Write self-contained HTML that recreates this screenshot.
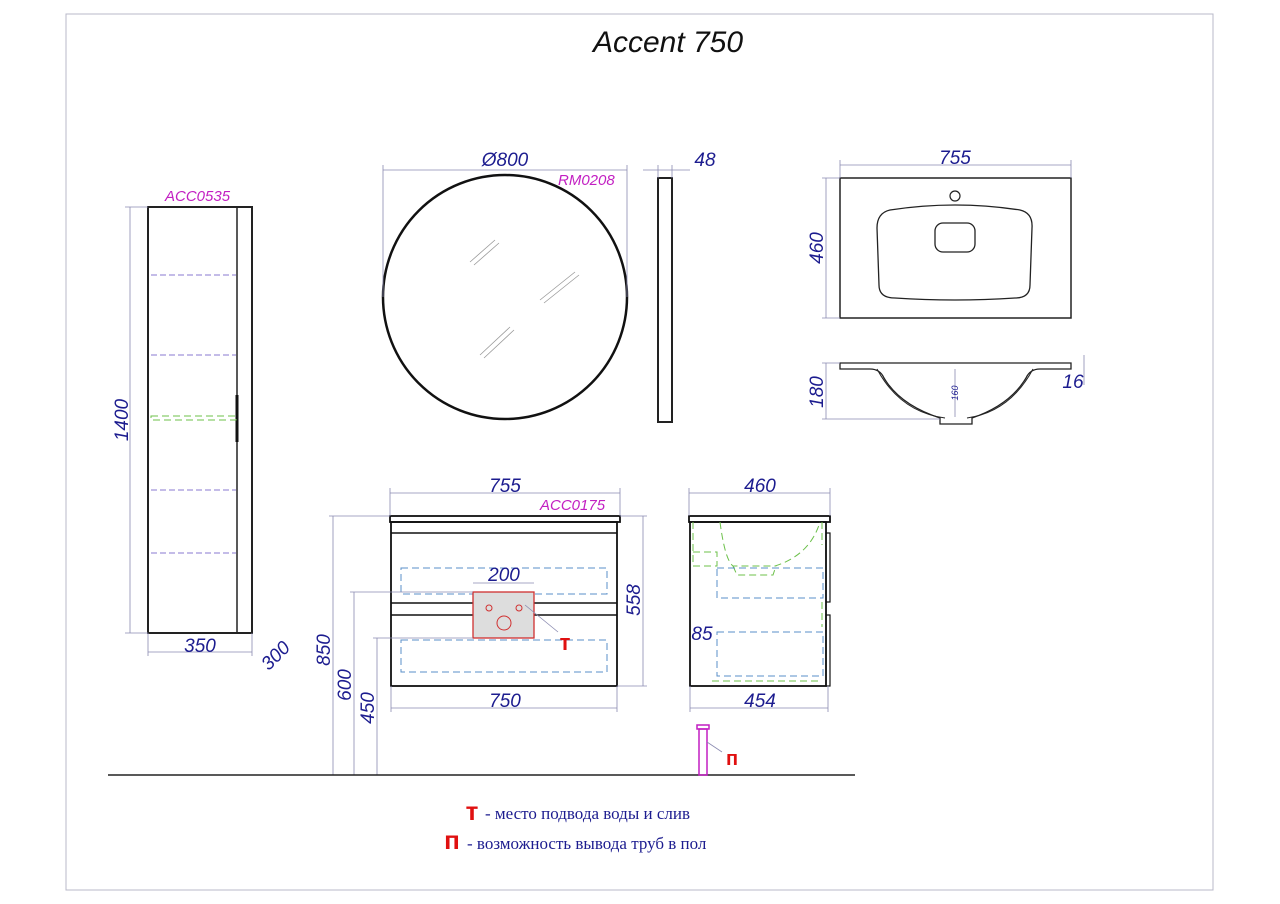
<!DOCTYPE html>
<html><head><meta charset="utf-8"><style>
html,body{margin:0;padding:0;background:#fff;}
svg{display:block;}
.d{font-family:"Liberation Sans",sans-serif;font-style:italic;fill:#1c1c8f;font-size:19px;}
.m{font-family:"Liberation Sans",sans-serif;font-style:italic;fill:#c21fc2;font-size:15px;}
.dl{stroke:#8a8ab0;stroke-width:0.8;fill:none;}
.k{stroke:#222;stroke-width:2;fill:none;}
.bd{stroke:#5a8fc8;stroke-width:1;stroke-dasharray:7 4;fill:none;}
.gd{stroke:#6cc04a;stroke-width:1;stroke-dasharray:7 4;fill:none;}
</style></head><body>
<svg width="1280" height="904" viewBox="0 0 1280 904">
<rect x="66" y="14" width="1147" height="876" fill="none" stroke="#b8b8c8" stroke-width="1"/>
<text x="668" y="52" text-anchor="middle" font-family="Liberation Sans,sans-serif" font-style="italic" font-size="30" fill="#111">Accent 750</text>

<!-- tall cabinet -->
<rect x="148" y="207" width="104" height="426" class="k"/>
<line x1="237" y1="207" x2="237" y2="633" stroke="#222" stroke-width="1.5"/>
<line x1="237" y1="395" x2="237" y2="442" stroke="#111" stroke-width="3"/>
<g stroke="#8a7ad0" stroke-width="1" stroke-dasharray="6 3">
<line x1="151" y1="275" x2="236" y2="275"/><line x1="151" y1="355" x2="236" y2="355"/>
<line x1="151" y1="490" x2="236" y2="490"/><line x1="151" y1="553" x2="236" y2="553"/></g>
<rect x="151" y="416" width="85" height="4" class="gd"/>
<line x1="130" y1="207" x2="130" y2="633" class="dl"/>
<line x1="125" y1="207" x2="148" y2="207" class="dl"/><line x1="125" y1="633" x2="148" y2="633" class="dl"/>
<text class="d" transform="translate(128,420) rotate(-90)" text-anchor="middle">1400</text>
<text class="m" x="165" y="201">ACC0535</text>
<line x1="148" y1="652" x2="252" y2="652" class="dl"/>
<line x1="148" y1="633" x2="148" y2="656" class="dl"/><line x1="252" y1="633" x2="252" y2="656" class="dl"/>
<text class="d" x="200" y="652" text-anchor="middle">350</text>
<text class="d" transform="translate(280,660) rotate(-45)" text-anchor="middle">300</text>

<!-- mirror -->
<circle cx="505" cy="297" r="122" fill="none" stroke="#111" stroke-width="2.5"/>
<g stroke="#999" stroke-width="0.8"><line x1="470" y1="262" x2="495" y2="240"/><line x1="474" y1="265" x2="499" y2="243"/>
<line x1="540" y1="300" x2="575" y2="272"/><line x1="544" y1="303" x2="579" y2="275"/>
<line x1="480" y1="355" x2="510" y2="327"/><line x1="484" y1="358" x2="514" y2="330"/></g>
<line x1="383" y1="170" x2="627" y2="170" class="dl"/>
<line x1="383" y1="165" x2="383" y2="297" class="dl"/><line x1="627" y1="165" x2="627" y2="297" class="dl"/>
<text class="d" x="505" y="166" text-anchor="middle">Ø800</text>
<text class="m" x="558" y="185">RM0208</text>
<rect x="658" y="178" width="14" height="244" class="k"/>
<line x1="643" y1="170" x2="690" y2="170" class="dl"/>
<line x1="658" y1="165" x2="658" y2="178" class="dl"/><line x1="672" y1="165" x2="672" y2="178" class="dl"/>
<text class="d" x="705" y="166" text-anchor="middle">48</text>

<!-- basin top -->
<rect x="840" y="178" width="231" height="140" fill="none" stroke="#222" stroke-width="1.5"/>
<circle cx="955" cy="196" r="5" fill="none" stroke="#222" stroke-width="1.2"/>
<path d="M890 210 Q955 200 1020 210 Q1033 213 1032 228 L1030 285 Q1030 298 1015 298 Q955 302 895 298 Q879 298 879 285 L877 228 Q877 213 890 210Z" fill="none" stroke="#222" stroke-width="1.3"/>
<rect x="935" y="223" width="40" height="29" rx="8" fill="none" stroke="#222" stroke-width="1.3"/>
<line x1="840" y1="165" x2="1071" y2="165" class="dl"/>
<line x1="840" y1="160" x2="840" y2="178" class="dl"/><line x1="1071" y1="160" x2="1071" y2="178" class="dl"/>
<text class="d" x="955" y="164" text-anchor="middle">755</text>
<line x1="826" y1="178" x2="826" y2="318" class="dl"/>
<line x1="822" y1="178" x2="840" y2="178" class="dl"/><line x1="822" y1="318" x2="840" y2="318" class="dl"/>
<text class="d" transform="translate(823,248) rotate(-90)" text-anchor="middle">460</text>

<!-- basin side -->
<path d="M840 363 L1071 363 L1071 369 L1040 369 Q1030 369 1026 378 Q1010 405 972 418 L972 424 L940 424 L940 418 Q900 405 884 378 Q880 369 870 369 L840 369Z" fill="none" stroke="#222" stroke-width="1.3"/>
<path d="M877 369 Q900 412 945 418 M1033 369 Q1010 412 967 418" fill="none" stroke="#222" stroke-width="1"/>
<line x1="955" y1="369" x2="955" y2="417" class="dl"/>
<text transform="translate(958,393) rotate(-90)" text-anchor="middle" font-family="Liberation Sans,sans-serif" font-style="italic" font-size="9" fill="#1c1c8f">160</text>
<line x1="826" y1="363" x2="826" y2="419" class="dl"/>
<line x1="822" y1="363" x2="840" y2="363" class="dl"/><line x1="822" y1="419" x2="940" y2="419" class="dl"/>
<text class="d" transform="translate(823,392) rotate(-90)" text-anchor="middle">180</text>
<line x1="1084" y1="355" x2="1084" y2="385" class="dl"/>
<text class="d" x="1073" y="388" text-anchor="middle">16</text>

<!-- front cabinet -->
<rect x="390" y="516" width="230" height="6" fill="none" stroke="#111" stroke-width="1.8"/>
<rect x="391" y="522" width="226" height="164" fill="none" stroke="#111" stroke-width="1.8"/>
<line x1="391" y1="533" x2="617" y2="533" stroke="#111" stroke-width="1.5"/>
<line x1="391" y1="603" x2="617" y2="603" stroke="#111" stroke-width="1.5"/>
<line x1="391" y1="615" x2="617" y2="615" stroke="#111" stroke-width="1.5"/>
<rect x="401" y="568" width="206" height="26" class="bd"/>
<rect x="401" y="640" width="206" height="32" class="bd"/>
<rect x="473" y="592" width="61" height="46" fill="#ddd" stroke="#d03030" stroke-width="1.3"/>
<circle cx="489" cy="608" r="3" fill="none" stroke="#d03030"/><circle cx="519" cy="608" r="3" fill="none" stroke="#d03030"/>
<circle cx="504" cy="623" r="7" fill="none" stroke="#d03030"/>
<line x1="525" y1="605" x2="558" y2="632" class="dl"/>
<line x1="473" y1="583" x2="534" y2="583" class="dl"/>
<text class="d" x="504" y="581" text-anchor="middle">200</text>
<text x="565" y="650" text-anchor="middle" font-family="Liberation Sans,sans-serif" font-weight="bold" font-size="22" fill="#e01010">т</text>
<line x1="390" y1="493" x2="620" y2="493" class="dl"/>
<line x1="390" y1="488" x2="390" y2="516" class="dl"/><line x1="620" y1="488" x2="620" y2="516" class="dl"/>
<text class="d" x="505" y="492" text-anchor="middle">755</text>
<text class="m" x="540" y="510">ACC0175</text>
<line x1="391" y1="708" x2="617" y2="708" class="dl"/>
<line x1="391" y1="686" x2="391" y2="712" class="dl"/><line x1="617" y1="686" x2="617" y2="712" class="dl"/>
<text class="d" x="505" y="707" text-anchor="middle">750</text>
<line x1="643" y1="516" x2="643" y2="686" class="dl"/>
<line x1="620" y1="516" x2="647" y2="516" class="dl"/><line x1="617" y1="686" x2="647" y2="686" class="dl"/>
<text class="d" transform="translate(640,600) rotate(-90)" text-anchor="middle">558</text>
<line x1="333" y1="516" x2="333" y2="775" class="dl"/><line x1="329" y1="516" x2="390" y2="516" class="dl"/>
<text class="d" transform="translate(330,650) rotate(-90)" text-anchor="middle">850</text>
<line x1="354" y1="592" x2="354" y2="775" class="dl"/><line x1="350" y1="592" x2="473" y2="592" class="dl"/>
<text class="d" transform="translate(351,685) rotate(-90)" text-anchor="middle">600</text>
<line x1="377" y1="638" x2="377" y2="775" class="dl"/><line x1="373" y1="638" x2="473" y2="638" class="dl"/>
<text class="d" transform="translate(374,708) rotate(-90)" text-anchor="middle">450</text>
<line x1="108" y1="775" x2="855" y2="775" stroke="#222" stroke-width="1.5"/>

<!-- side cabinet -->
<rect x="689" y="516" width="141" height="6" fill="none" stroke="#111" stroke-width="1.8"/>
<rect x="690" y="522" width="136" height="164" fill="none" stroke="#111" stroke-width="1.8"/>
<rect x="826" y="533" width="4" height="69" fill="none" stroke="#111" stroke-width="1.2"/>
<rect x="826" y="615" width="4" height="71" fill="none" stroke="#111" stroke-width="1.2"/>
<path d="M720 522 Q725 560 733 566 L775 566 Q810 555 820 522" class="gd"/>
<path d="M733 566 L737 575 L773 575 L776 566" class="gd"/>
<rect x="693" y="552" width="24" height="14" class="gd"/>
<path d="M693 522 L693 552 M822 522 L822 545 M822 602 L822 627 M712 681 L822 681" class="gd"/>
<rect x="717" y="568" width="106" height="30" class="bd"/>
<rect x="717" y="632" width="106" height="44" class="bd"/>
<text class="d" x="702" y="640" text-anchor="middle">85</text>
<line x1="689" y1="493" x2="830" y2="493" class="dl"/>
<line x1="689" y1="488" x2="689" y2="516" class="dl"/><line x1="830" y1="488" x2="830" y2="516" class="dl"/>
<text class="d" x="760" y="492" text-anchor="middle">460</text>
<line x1="690" y1="708" x2="828" y2="708" class="dl"/>
<line x1="690" y1="686" x2="690" y2="712" class="dl"/><line x1="828" y1="686" x2="828" y2="712" class="dl"/>
<text class="d" x="760" y="707" text-anchor="middle">454</text>
<rect x="697" y="725" width="12" height="4" fill="none" stroke="#c21fc2" stroke-width="1.5"/>
<rect x="699" y="729" width="8" height="46" fill="none" stroke="#c21fc2" stroke-width="1.5"/>
<line x1="707" y1="742" x2="722" y2="752" class="dl"/>
<text x="732" y="765" text-anchor="middle" font-family="Liberation Sans,sans-serif" font-weight="bold" font-size="20" fill="#e01010">п</text>

<!-- legend -->
<text x="472" y="820" text-anchor="middle" font-family="Liberation Sans,sans-serif" font-weight="bold" font-size="26" fill="#e01010">т</text>
<text x="485" y="819" font-family="Liberation Serif,serif" font-size="17" fill="#1c1c8f">- место подвода воды и слив</text>
<text x="452" y="849" text-anchor="middle" font-family="Liberation Sans,sans-serif" font-weight="bold" font-size="26" fill="#e01010">п</text>
<text x="467" y="849" font-family="Liberation Serif,serif" font-size="17" fill="#1c1c8f">- возможность вывода труб в пол</text>
</svg>
</body></html>
